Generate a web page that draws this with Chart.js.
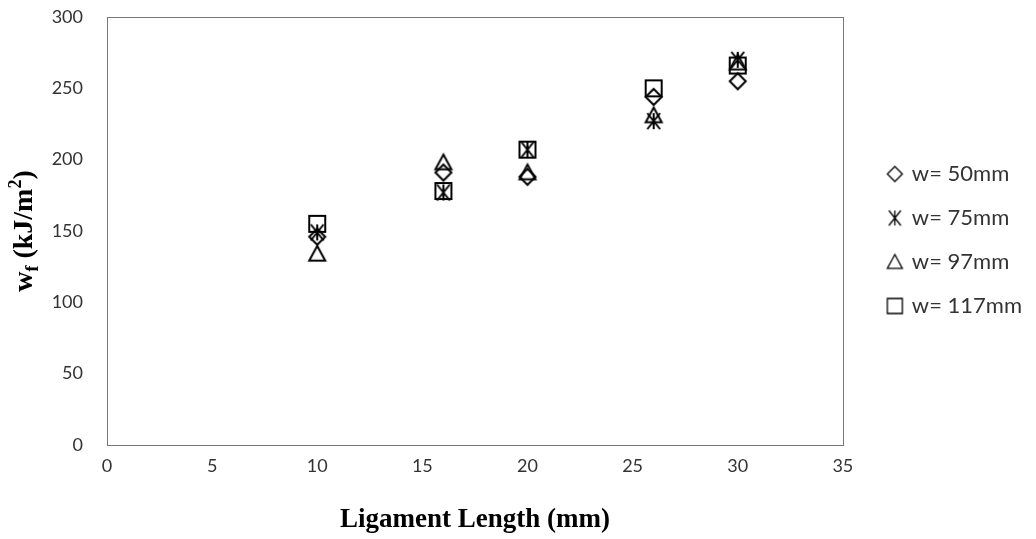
<!DOCTYPE html>
<html>
<head>
<meta charset="utf-8">
<title>Work of fracture vs ligament length</title>
<script src="https://cdn.jsdelivr.net/npm/chart.js@4.4.1/dist/chart.umd.min.js"></script>
<style>
  html, body { margin: 0; padding: 0; background: #fff; }
  #wrap { width: 1036px; height: 539px; position: relative; }
</style>
</head>
<body>
<div id="wrap"><canvas id="wf-chart"></canvas></div>
<script>
// ligament lengths (mm) and specific work of fracture (kJ/m2) per specimen width
const ligament = [10, 16, 20, 26, 30];
const wf50  = [146, 191, 188, 244, 255];
const wf75  = [149, 177, 207, 227, 270];
const wf97  = [134, 198, 191, 231, 268];
const wf117 = [155, 178, 207, 250, 266];
const seriesLabels = ['w= 50mm', 'w= 75mm', 'w= 97mm', 'w= 117mm'];
const seriesShapes = ['diamond', 'star', 'triangle', 'square'];
const xRange = { min: 0, max: 35, step: 5 };
const yRange = { min: 0, max: 300, step: 50 };

const TICK_FONT  = { family: 'Lato', size: 18 };
const TITLE_FONT = '"Liberation Serif", "Times New Roman", serif';

/* ----------------------------------------------------------
   Hollow marker glyphs drawn once into small canvases.
   shiftX moves the glyph right inside a wider canvas (legend use).
   ---------------------------------------------------------- */
function makeMarker(shape, size, lw, shiftX = 0) {
  const pad = Math.ceil(lw) + 1;
  const c = document.createElement('canvas');
  c.height = size + pad * 2;
  c.width = c.height + Math.abs(shiftX) * 2;
  const g = c.getContext('2d');
  const mx = c.width / 2 + shiftX, my = c.height / 2, h = size / 2;
  g.strokeStyle = '#000';
  g.lineWidth = lw;
  g.beginPath();
  if (shape === 'diamond') {
    g.moveTo(mx, my - h); g.lineTo(mx + h, my); g.lineTo(mx, my + h); g.lineTo(mx - h, my); g.closePath();
  } else if (shape === 'square') {
    g.rect(mx - h, my - h, size, size);
  } else if (shape === 'triangle') {
    g.moveTo(mx, my - h); g.lineTo(mx + h, my + h * 0.85); g.lineTo(mx - h, my + h * 0.85); g.closePath();
  } else if (shape === 'star') {
    g.moveTo(mx - h * 0.8, my - h); g.lineTo(mx + h * 0.8, my + h);
    g.moveTo(mx + h * 0.8, my - h); g.lineTo(mx - h * 0.8, my + h);
    g.moveTo(mx, my - h); g.lineTo(mx, my + h);
  }
  g.stroke();
  return c;
}

const plotMarks   = seriesShapes.map(s => makeMarker(s, 16, 2));
const legendMarks = seriesShapes.map(s => makeMarker(s, 15, 1.3, 12));

/* ----------------------------------------------------------
   Plugins: frame round the plot area, rotated y title with sub/superscript
   ---------------------------------------------------------- */
const plotFrame = {
  id: 'plotFrame',
  beforeDatasetsDraw(chart) {
    const { ctx, chartArea: a } = chart;
    ctx.save();
    ctx.strokeStyle = '#777';
    ctx.lineWidth = 1;
    ctx.strokeRect(Math.round(a.left) + 0.5, Math.round(a.top) + 0.5,
                   Math.round(a.right - a.left), Math.round(a.bottom - a.top));
    ctx.restore();
  }
};

const yTitle = {
  id: 'yTitle',
  afterDraw(chart) {
    const { ctx, chartArea: a } = chart;
    const big = `bold 28px ${TITLE_FONT}`, small = `bold 18px ${TITLE_FONT}`;
    const parts = [['w', big, 0], ['f', small, 6], [' (kJ/m', big, 0], ['2', small, -11], [')', big, 0]];
    ctx.save();
    ctx.fillStyle = '#000';
    ctx.textBaseline = 'alphabetic';
    let total = 0;
    parts.forEach(([t, f]) => { ctx.font = f; total += ctx.measureText(t).width; });
    ctx.translate(23, (a.top + a.bottom) / 2);
    ctx.rotate(-Math.PI / 2);
    let x = -total / 2;
    parts.forEach(([t, f, dy]) => {
      ctx.font = f;
      ctx.fillText(t, x, 9 + dy);
      x += ctx.measureText(t).width;
    });
    ctx.restore();
  }
};

/* ----------------------------------------------------------
   Chart
   ---------------------------------------------------------- */
const seriesData = [wf50, wf75, wf97, wf117];

new Chart(document.getElementById('wf-chart'), {
  type: 'scatter',
  data: {
    datasets: seriesData.map((vals, i) => ({
      label: seriesLabels[i],
      data: ligament.map((x, k) => ({ x, y: vals[k] })),
      pointStyle: plotMarks[i],
      borderColor: '#000',
      backgroundColor: 'transparent',
      showLine: false,
    })),
  },
  options: {
    responsive: true,
    maintainAspectRatio: false,
    animation: false,
    layout: { padding: { top: 17, right: 4, left: 0, bottom: 0 } },
    plugins: {
      tooltip: { enabled: false },
      legend: {
        position: 'right',
        fullSize: false,
        // blank title only nudges the entries down a little
        title: { display: true, text: ' ', padding: 0, font: { size: 15 } },
        labels: {
          usePointStyle: true,
          pointStyleWidth: 36,
          padding: 22,
          color: '#333',
          font: { family: 'Lato', size: 22 },
          generateLabels(chart) {
            const items = Chart.defaults.plugins.legend.labels.generateLabels(chart);
            items.forEach((it, i) => { it.pointStyle = legendMarks[i]; });
            return items;
          },
        },
      },
    },
    scales: {
      x: {
        type: 'linear',
        min: xRange.min, max: xRange.max,
        grid: { display: false, drawTicks: false },
        border: { display: false },
        ticks: { stepSize: xRange.step, color: '#333', font: TICK_FONT, padding: 10 },
        title: {
          display: true,
          text: 'Ligament Length (mm)',
          color: '#000',
          font: { family: TITLE_FONT, size: 27, weight: 'bold' },
          padding: { top: 0, bottom: 3 },
        },
        afterFit(scale) { scale.height = 94; },
      },
      y: {
        type: 'linear',
        min: yRange.min, max: yRange.max,
        grid: { display: false, drawTicks: false },
        border: { display: false },
        ticks: { stepSize: yRange.step, color: '#333', font: TICK_FONT, padding: 24 },
        afterFit(scale) {
          scale.width = 107;
          scale.paddingTop = 0;
          scale.paddingBottom = 0;
        },
      },
    },
  },
  plugins: [plotFrame, yTitle],
});
</script>
</body>
</html>
